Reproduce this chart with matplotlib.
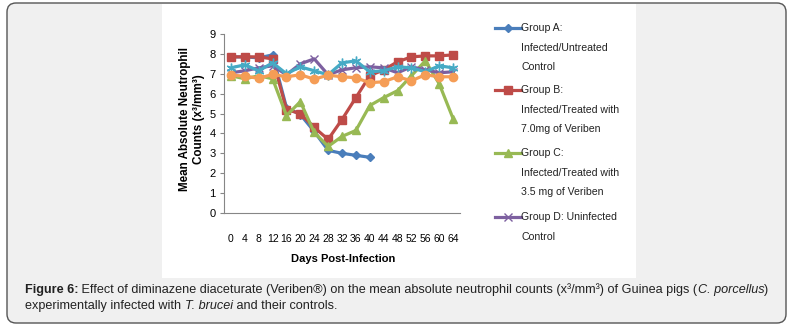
import matplotlib
matplotlib.use("Agg")
import matplotlib.pyplot as plt
from matplotlib.patches import FancyBboxPatch, Rectangle
from matplotlib.lines import Line2D
from matplotlib.transforms import IdentityTransform

# ---------------- data ----------------
days = [0, 4, 8, 12, 16, 20, 24, 28, 32, 36, 40, 44, 48, 52, 56, 60, 64]
group_a = [7.85, 7.85, 7.8, 7.95, 5.3, 4.95, 4.1, 3.15, 3.0, 2.9, 2.8]
group_b = [7.85, 7.85, 7.85, 7.75, 5.2, 5.0, 4.3, 3.7, 4.7, 5.8, 6.9, 7.2, 7.6, 7.85, 7.9, 7.9, 7.95]
group_c = [6.9, 6.75, 6.9, 6.75, 4.9, 5.6, 4.05, 3.35, 3.85, 4.15, 5.4, 5.8, 6.15, 6.9, 7.65, 6.5, 4.75]
group_d = [7.05, 7.15, 7.3, 7.4, 6.95, 7.5, 7.75, 6.95, 7.2, 7.3, 7.35, 7.3, 7.05, 7.35, 7.2, 7.05, 7.1]
group_e = [7.3, 7.45, 7.15, 7.55, 7.0, 7.35, 7.15, 6.95, 7.55, 7.65, 7.1, 7.15, 7.35, 7.3, 7.1, 7.4, 7.3]
group_f = [6.93, 6.88, 6.77, 6.97, 6.85, 6.95, 6.73, 6.93, 6.85, 6.8, 6.55, 6.6, 6.85, 6.65, 6.95, 6.85, 6.85]

legend_labels = ["Group A:\nInfected/Untreated\nControl",
                 "Group B:\nInfected/Treated with\n7.0mg of Veriben",
                 "Group C:\nInfected/Treated with\n3.5 mg of Veriben",
                 "Group D: Uninfected\nControl"]
y_ticks = [0, 1, 2, 3, 4, 5, 6, 7, 8, 9]

# ---------------- styles ----------------
series = [
    (group_a, "#4A7EBB", "D", 4.5),
    (group_b, "#BE4B48", "s", 5.5),
    (group_c, "#98B954", "^", 6.0),
    (group_d, "#7D60A0", "x", 6.0),
    (group_e, "#46AAC5", (6, 2, 0), 7.0),
    (group_f, "#F59D56", "o", 6.0),
]
arial = ["Liberation Sans", "DejaVu Sans"]

W, H = 793, 327
fig = plt.figure(figsize=(W / 100, H / 100), dpi=100)
fig.patch.set_facecolor("white")

def px(x, y):
    return x, H - y

# outer gray rounded box
box = FancyBboxPatch(px(7, 323), 779, 320, boxstyle="round,pad=0,rounding_size=9",
                     transform=IdentityTransform(), facecolor="#F0F0F0",
                     edgecolor="#555555", linewidth=1.0, zorder=-3)
fig.patches.append(box)
# white chart panel
panel = Rectangle(px(162, 278), 474, 274, transform=IdentityTransform(),
                  facecolor="white", edgecolor="none", zorder=-2)
fig.patches.append(panel)

# axes
ax = fig.add_axes([224 / W, (H - 213) / H, 236 / W, 179 / H])
ax.patch.set_alpha(0)
xs = list(range(len(days)))
for vals, col, mk, ms in series:
    ax.plot(xs[:len(vals)], vals, color=col, lw=2.3, marker=mk, markersize=ms,
            markeredgecolor=col, markerfacecolor=col, markeredgewidth=1.0)
ax.set_xlim(-0.5, len(days) - 0.5)
ax.set_ylim(0, 9)
ax.set_yticks(y_ticks)
ax.set_xticks(xs)
ax.set_xticklabels([str(d) for d in days], family=arial, fontsize=7.5)
ax.set_yticklabels([str(v) for v in y_ticks], family=arial, fontsize=8)
ax.tick_params(axis="x", length=0, pad=15)
ax.tick_params(axis="y", length=3, pad=3, color="#868686", direction="out")
for s in ["top", "right"]:
    ax.spines[s].set_visible(False)
for s in ["left", "bottom"]:
    ax.spines[s].set_color("#868686")
    ax.spines[s].set_linewidth(0.8)

# axis titles
fig.text(192 / W, (H - 119) / H, "Mean Absolute Neutrophil\nCounts (x³/mm³)",
         rotation=90, ha="center", va="center", fontsize=8.4, fontweight="bold",
         family=arial, linespacing=1.15)
fig.text(343 / W, (H - 259) / H, "Days Post-Infection", ha="center", va="center",
         fontsize=8, fontweight="bold", family=arial)

# legend (manual, handle aligned to first text line)
leg_y = [28, 90, 153, 217]
for (vals, col, mk, ms), lab, y in zip(series[:4], legend_labels, leg_y):
    fig.add_artist(Line2D([495 / W, 521 / W], [(H - y) / H] * 2, color=col, lw=2.3))
    fig.add_artist(Line2D([508 / W], [(H - y) / H], color=col, marker=mk,
                          markersize=ms, markerfacecolor=col, markeredgecolor=col))
    for k, line in enumerate(lab.split("\n")):
        fig.text(521 / W, (H - (y + 19.7 * k)) / H, line, ha="left", va="center",
                 fontsize=7.6, family=arial, color="#222222")

# caption with mixed styles
renderer = fig.canvas.get_renderer()

def draw_pieces(x0, y0, pieces, size=9.1):
    x = x0
    for txt, weight, style in pieces:
        t = fig.text(x, H - y0, txt, transform=IdentityTransform(), fontsize=size,
                     fontweight=weight, fontstyle=style, family=arial,
                     ha="left", va="baseline", color="#222222")
        x += t.get_window_extent(renderer).width

line1 = [("Figure 6:", "bold", "normal"),
         (" Effect of diminazene diaceturate (Veriben®) on the mean absolute neutrophil counts (x³/mm³) of Guinea pigs (", "normal", "normal"),
         ("C. porcellus", "normal", "italic"),
         (")", "normal", "normal")]
line2 = [("experimentally infected with ", "normal", "normal"),
         ("T. brucei", "normal", "italic"),
         (" and their controls.", "normal", "normal")]
draw_pieces(25, 293, line1)
draw_pieces(25, 309, line2)

fig.savefig("out.png", dpi=100, facecolor=fig.get_facecolor())
